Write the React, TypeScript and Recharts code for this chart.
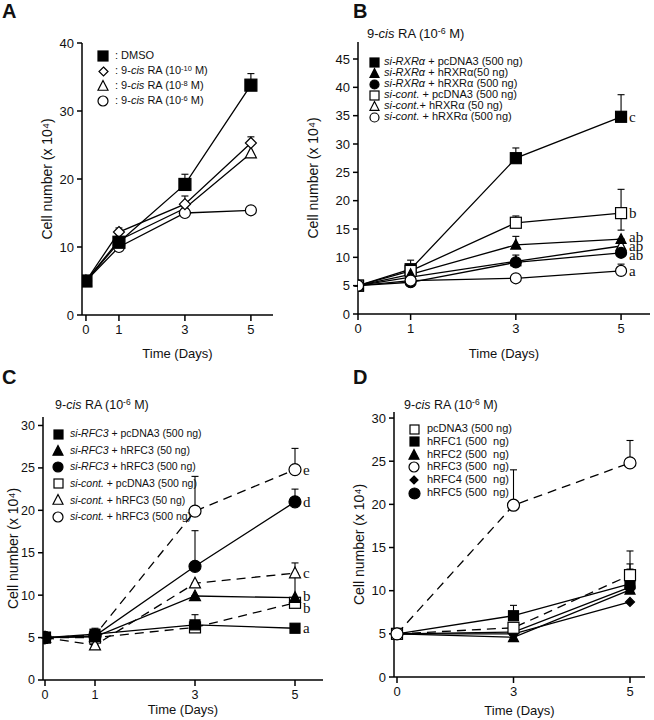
import React from "react";
import { LineChart, Line, XAxis, YAxis, ErrorBar, LabelList } from "recharts";

const DAYS = [0, 1, 3, 5];
const DAYS_D = ["0", "3", "5"];

// A: 9-cis RA dose series
const aDmso = [5, 10.7, 19.2, 33.8];
const aDmsoErr = [0, 1.3, 1.5, 1.7];
const aRa10 = [5, 12.2, 16.3, 25.3];
const aRa10Err = [0, 0.6, 1.2, 0.9];
const aRa8 = [5, 11.0, 15.7, 23.8];
const aRa6 = [5, 10.0, 15.0, 15.4];

// B: si-RXRa rescue
const bSiPc = [5, 7.9, 27.5, 34.8];
const bSiPcErr = [0, 1.6, 1.8, 3.9];
const bSi50 = [5, 7.0, 12.2, 13.2];
const bSi50Err = [0, 0, 1.5, 0];
const bSi500 = [5, 5.6, 9.1, 10.8];
const bSi500Err = [0, 0, 1.3, 0];
const bCtPc = [5, 7.6, 16.1, 17.8];
const bCtPcErr = [0, 0, 1.2, 4.2];
const bCtPcErrLow = [0, 0, 0, 3.0];
const bCt50 = [5, 6.5, 9.3, 12.0];
const bCt500 = [5, 5.9, 6.3, 7.6];
const bCt500Err = [0, 0, 0, 1.2];
const bLetters = ["c", "ab", "ab", "b", "ab", "a"];

// C: si-RFC3 rescue
const cSiPc = [5, 5.4, 6.5, 6.1];
const cSiPcErr = [0, 0.7, 1.2, 0];
const cSi50 = [5, 5.1, 9.9, 9.7];
const cSi50Err = [0, 0, 0, 2.8];
const cSi500 = [5, 5.2, 13.4, 21.0];
const cSi500Err = [0, 0, 4.2, 1.5];
const cCtPc = [5, 5.0, 6.2, 9.1];
const cCt50 = [5, 4.1, 11.4, 12.6];
const cCt50Err = [0, 0, 0, 1.2];
const cCt500 = [5, 5.3, 19.9, 24.8];
const cCt500Err = [0, 0, 4.1, 2.5];
const cLetters = ["a", "b", "d", "b", "c", "e"];

// D: RFC subunits
const dPc = [5, 5.7, 11.8];
const dPcErr = [0, 0, 1.3];
const dR1 = [5, 7.1, 10.8];
const dR1Err = [0, 1.2, 3.8];
const dR2 = [5, 4.6, 10.1];
const dR3 = [5, 19.9, 24.8];
const dR3Err = [0, 4.1, 2.6];
const dR4 = [5, 5.0, 8.7];
const dR5 = [5, 5.2, 10.4];
const dR5Err = [0, 0, 2.1];

type Shape = "square" | "circle" | "triangle" | "diamond";

interface Series {
  key: string;
  values: number[];
  up?: number[];
  down?: number[];
  shape: Shape;
  filled: boolean;
  size: number;
  dashed?: boolean;
  letter?: string;
  letterDy?: number;
}

function Marker({ shape, filled, size, cx, cy }: { shape: Shape; filled: boolean; size: number; cx: number; cy: number }) {
  const fill = filled ? "#000" : "#fff";
  const h = size / 2;
  const common = { fill, stroke: "#000", strokeWidth: 1.2 };
  if (shape === "square") return <rect x={cx - h} y={cy - h} width={size} height={size} {...common} />;
  if (shape === "circle") return <circle cx={cx} cy={cy} r={h} {...common} />;
  if (shape === "triangle")
    return <polygon points={`${cx},${cy - h * 1.1} ${cx - h},${cy + h * 0.85} ${cx + h},${cy + h * 0.85}`} {...common} />;
  return <polygon points={`${cx},${cy - h} ${cx + h},${cy} ${cx},${cy + h} ${cx - h},${cy}`} {...common} />;
}

function Sym({ shape, filled, size }: { shape: Shape; filled: boolean; size: number }) {
  const s = size + 4;
  return (
    <svg width={s} height={s} style={{ display: "block" }}>
      <Marker shape={shape} filled={filled} size={size} cx={s / 2} cy={s / 2} />
    </svg>
  );
}

function buildRows(xs: (number | string)[], series: Series[]) {
  return xs.map((day, i) => {
    const row: any = { day };
    series.forEach((s) => {
      row[s.key] = s.values[i];
      row[s.key + "_e"] = [s.down ? s.down[i] : 0, s.up ? s.up[i] : 0];
      row[s.key + "_l"] = i === xs.length - 1 && s.letter ? s.letter : null;
    });
    return row;
  });
}

interface PanelCfg {
  box: [number, number, number, number];
  yW: number;
  xH: number;
  yDomain: [number, number];
  yTicks: number[];
  xs: (number | string)[];
  xDomain?: [number, number];
  xPadding?: { left: number; right: number };
  series: Series[];
  tickFont: number;
  labelFont: number;
}

function Panel({ cfg }: { cfg: PanelCfg }) {
  const { box, yW } = cfg;
  const mt = 14;
  const mr = 4;
  const extra = 8;
  const xH = cfg.xH + extra;
  const width = yW + box[2] - box[0] + mr;
  const height = mt + box[3] - box[1] + xH;
  const rows = buildRows(cfg.xs, cfg.series);
  const axisLine = { stroke: "#000", strokeWidth: 1.5 };
  const tick = { fill: "#111", fontSize: cfg.tickFont, fontFamily: "Liberation Sans, Arial, sans-serif" };
  const numeric = !!cfg.xDomain;
  const timeLabel = { value: "Time (Days)", position: "insideBottom" as const, offset: extra, fontSize: 13, fill: "#111" };
  return (
    <div style={{ position: "absolute", left: box[0] - yW, top: box[1] - mt }}>
      <LineChart width={width} height={height} data={rows} margin={{ top: mt, right: mr, left: 0, bottom: 0 }}>
        {numeric ? (
          <XAxis
            dataKey="day"
            type="number"
            domain={cfg.xDomain}
            ticks={cfg.xs as number[]}
            allowDataOverflow
            interval={0}
            height={xH}
            axisLine={axisLine}
            tickLine={{ stroke: "#000", strokeWidth: 1.5 }}
            tickSize={6}
            tickMargin={4}
            tick={tick}
            label={timeLabel}
          />
        ) : (
          <XAxis
            dataKey="day"
            type="category"
            scale="point"
            padding={cfg.xPadding}
            interval={0}
            height={xH}
            axisLine={axisLine}
            tickLine={{ stroke: "#000", strokeWidth: 1.5 }}
            tickSize={6}
            tickMargin={4}
            tick={tick}
            label={timeLabel}
          />
        )}
        <XAxis xAxisId="top" orientation="top" type="number" domain={[0, 1]} height={0} tick={false} tickLine={false} axisLine={axisLine} />
        <YAxis
          type="number"
          domain={cfg.yDomain}
          ticks={cfg.yTicks}
          allowDataOverflow
          interval={0}
          width={yW}
          axisLine={axisLine}
          tickLine={{ stroke: "#000", strokeWidth: 1.5 }}
          tickSize={5}
          tickMargin={3}
          tick={tick}
          label={{ value: "Cell number (x 10\u2074)", angle: -90, position: "center", fontSize: cfg.labelFont, fill: "#111" }}
        />
        <YAxis yAxisId="right" orientation="right" type="number" domain={[0, 1]} width={0} tick={false} tickLine={false} axisLine={axisLine} />
        {cfg.series.map((s) => (
          <Line
            key={s.key}
            dataKey={s.key}
            stroke="#000"
            strokeWidth={1.3}
            strokeDasharray={s.dashed ? "9 6" : undefined}
            isAnimationActive={false}
            activeDot={false}
            dot={(p: any) => (
              <Marker key={`${s.key}-${p.index}`} shape={s.shape} filled={s.filled} size={s.size} cx={p.cx} cy={p.cy} />
            )}
          >
            {(s.up || s.down) && <ErrorBar dataKey={s.key + "_e"} direction="y" width={3.5} stroke="#000" strokeWidth={1.1} />}
            {s.letter && (
              <LabelList
                dataKey={s.key + "_l"}
                content={(p: any) =>
                  p.value ? (
                    <text
                      x={p.x + 8}
                      y={p.y + 5 + (s.letterDy || 0)}
                      fontFamily="Liberation Serif, Times New Roman, serif"
                      fontSize={15}
                      fill="#111"
                    >
                      {p.value}
                    </text>
                  ) : null
                }
              />
            )}
          </Line>
        ))}
      </LineChart>
    </div>
  );
}

const seriesA: Series[] = [
  { key: "ra8", values: aRa8, shape: "triangle", filled: false, size: 11 },
  { key: "ra6", values: aRa6, shape: "circle", filled: false, size: 11 },
  { key: "ra10", values: aRa10, up: aRa10Err, shape: "diamond", filled: false, size: 11 },
  { key: "dmso", values: aDmso, up: aDmsoErr, shape: "square", filled: true, size: 12 },
];

const seriesB: Series[] = [
  { key: "siPc", values: bSiPc, up: bSiPcErr, shape: "square", filled: true, size: 11, letter: bLetters[0] },
  { key: "ctPc", values: bCtPc, up: bCtPcErr, down: bCtPcErrLow, shape: "square", filled: false, size: 11, letter: bLetters[3] },
  { key: "ct50", values: bCt50, shape: "triangle", filled: false, size: 10, letter: bLetters[4] },
  { key: "si50", values: bSi50, up: bSi50Err, shape: "triangle", filled: true, size: 10, letter: bLetters[1], letterDy: -2 },
  { key: "si500", values: bSi500, up: bSi500Err, shape: "circle", filled: true, size: 11, letter: bLetters[2], letterDy: 2 },
  { key: "ct500", values: bCt500, up: bCt500Err, shape: "circle", filled: false, size: 11, letter: bLetters[5] },
];

const seriesC: Series[] = [
  { key: "ctPc", values: cCtPc, shape: "square", filled: false, size: 11, dashed: true, letter: cLetters[3], letterDy: 5 },
  { key: "ct50", values: cCt50, up: cCt50Err, shape: "triangle", filled: false, size: 11, dashed: true, letter: cLetters[4] },
  { key: "ct500", values: cCt500, up: cCt500Err, shape: "circle", filled: false, size: 12, dashed: true, letter: cLetters[5] },
  { key: "siPc", values: cSiPc, up: cSiPcErr, shape: "square", filled: true, size: 10, letter: cLetters[0] },
  { key: "si50", values: cSi50, up: cSi50Err, shape: "triangle", filled: true, size: 11, letter: cLetters[1], letterDy: -2 },
  { key: "si500", values: cSi500, up: cSi500Err, shape: "circle", filled: true, size: 12, letter: cLetters[2] },
];

const seriesD: Series[] = [
  { key: "r4", values: dR4, shape: "diamond", filled: true, size: 9 },
  { key: "r2", values: dR2, shape: "triangle", filled: true, size: 10 },
  { key: "r5", values: dR5, up: dR5Err, shape: "circle", filled: true, size: 10 },
  { key: "r1", values: dR1, up: dR1Err, shape: "square", filled: true, size: 10 },
  { key: "pc", values: dPc, up: dPcErr, shape: "square", filled: false, size: 11, dashed: true },
  { key: "r3", values: dR3, up: dR3Err, shape: "circle", filled: false, size: 12, dashed: true },
];

const panelA: PanelCfg = {
  box: [82, 43, 273, 315],
  yW: 70,
  xH: 43,
  yDomain: [0, 40],
  yTicks: [0, 10, 20, 30, 40],
  xs: DAYS,
  xDomain: [-0.12, 5.67],
  series: seriesA,
  tickFont: 13,
  labelFont: 14,
};

const panelB: PanelCfg = {
  box: [358, 42, 650, 314],
  yW: 90,
  xH: 44,
  yDomain: [0, 48],
  yTicks: [0, 5, 10, 15, 20, 25, 30, 35, 40, 45],
  xs: DAYS,
  xDomain: [0, 5.55],
  series: seriesB,
  tickFont: 13,
  labelFont: 14,
};

const panelC: PanelCfg = {
  box: [43, 417, 323, 680],
  yW: 60,
  xH: 34,
  yDomain: [0, 31],
  yTicks: [0, 5, 10, 15, 20, 25, 30],
  xs: DAYS,
  xDomain: [-0.04, 5.56],
  series: seriesC,
  tickFont: 12.5,
  labelFont: 14,
};

const panelD: PanelCfg = {
  box: [394, 412, 645, 677],
  yW: 70,
  xH: 38,
  yDomain: [0, 30.7],
  yTicks: [0, 5, 10, 15, 20, 25, 30],
  xs: DAYS_D,
  xPadding: { left: 3, right: 15 },
  series: seriesD,
  tickFont: 13,
  labelFont: 14,
};

const sup = (t: string) => (
  <span style={{ fontSize: "0.68em", position: "relative", top: "-0.45em" }}>{t}</span>
);
const raTitle = (
  <>
    9-<i>cis</i> RA (10{sup("-6")} M)
  </>
);
const raDose = (e: string) => (
  <>
    : 9-<i>cis</i> RA (10{sup(e)} M)
  </>
);

const legendA = [
  { shape: "square" as Shape, filled: true, size: 10, label: <>: DMSO</> },
  { shape: "diamond" as Shape, filled: false, size: 9, label: raDose("-10") },
  { shape: "triangle" as Shape, filled: false, size: 10, label: raDose("-8") },
  { shape: "circle" as Shape, filled: false, size: 10, label: raDose("-6") },
];

const legendB = [
  { shape: "square" as Shape, filled: true, size: 9, label: <><i>si-RXRα</i> + pcDNA3 (500 ng)</> },
  { shape: "triangle" as Shape, filled: true, size: 9, label: <><i>si-RXRα</i> + hRXRα(50 ng)</> },
  { shape: "circle" as Shape, filled: true, size: 9, label: <><i>si-RXRα</i> + hRXRα (500 ng)</> },
  { shape: "square" as Shape, filled: false, size: 9, label: <><i>si-cont.</i> + pcDNA3 (500 ng)</> },
  { shape: "triangle" as Shape, filled: false, size: 9, label: <><i>si-cont.</i>+ hRXRα (50 ng)</> },
  { shape: "circle" as Shape, filled: false, size: 9, label: <><i>si-cont.</i> + hRXRα (500 ng)</> },
];

const legendC = [
  { shape: "square" as Shape, filled: true, size: 9, label: <><i>si-RFC3</i> + pcDNA3 (500 ng)</> },
  { shape: "triangle" as Shape, filled: true, size: 10, label: <><i>si-RFC3</i> + hRFC3 (50 ng)</> },
  { shape: "circle" as Shape, filled: true, size: 10, label: <><i>si-RFC3</i> + hRFC3 (500 ng)</> },
  { shape: "square" as Shape, filled: false, size: 9, label: <><i>si-cont.</i> + pcDNA3 (500 ng)</> },
  { shape: "triangle" as Shape, filled: false, size: 10, label: <><i>si-cont.</i> + hRFC3 (50 ng)</> },
  { shape: "circle" as Shape, filled: false, size: 10, label: <><i>si-cont.</i> + hRFC3 (500 ng)</> },
];

const legendD = [
  { shape: "square" as Shape, filled: false, size: 9, label: <>pcDNA3 (500 ng)</> },
  { shape: "square" as Shape, filled: true, size: 9, label: <>hRFC1 (500&nbsp; ng)</> },
  { shape: "triangle" as Shape, filled: true, size: 10, label: <>hRFC2 (500&nbsp; ng)</> },
  { shape: "circle" as Shape, filled: false, size: 10, label: <>hRFC3 (500&nbsp; ng)</> },
  { shape: "diamond" as Shape, filled: true, size: 8, label: <>hRFC4 (500&nbsp; ng)</> },
  { shape: "circle" as Shape, filled: true, size: 11, label: <>hRFC5 (500&nbsp; ng)</> },
];

function LegendBlock({
  items,
  symX,
  textX,
  y0,
  step,
  fontSize,
}: {
  items: { shape: Shape; filled: boolean; size: number; label: React.ReactNode }[];
  symX: number;
  textX: number;
  y0: number;
  step: number;
  fontSize: number;
}) {
  return (
    <>
      {items.map((it, i) => {
        const cy = y0 + i * step;
        const s = it.size + 4;
        return (
          <React.Fragment key={i}>
            <div style={{ position: "absolute", left: symX - s / 2, top: cy - s / 2 }}>
              <Sym shape={it.shape} filled={it.filled} size={it.size} />
            </div>
            <div
              style={{
                position: "absolute",
                left: textX,
                top: cy - fontSize * 0.55,
                fontSize,
                lineHeight: 1,
                whiteSpace: "nowrap",
                color: "#111",
              }}
            >
              {it.label}
            </div>
          </React.Fragment>
        );
      })}
    </>
  );
}

function TextAt({ x, y, size, bold, children }: { x: number; y: number; size: number; bold?: boolean; children: React.ReactNode }) {
  return (
    <div
      style={{
        position: "absolute",
        left: x,
        top: y - size * 0.5,
        fontSize: size,
        lineHeight: 1,
        fontWeight: bold ? 700 : 400,
        whiteSpace: "nowrap",
        color: "#111",
      }}
    >
      {children}
    </div>
  );
}

export default function App() {
  return (
    <div
      style={{
        position: "absolute",
        left: 0,
        top: 0,
        width: 654,
        height: 720,
        background: "#fff",
        overflow: "hidden",
        fontFamily: "Liberation Sans, Arial, sans-serif",
      }}
    >
      <Panel cfg={panelA} />
      <Panel cfg={panelB} />
      <Panel cfg={panelC} />
      <Panel cfg={panelD} />

      <TextAt x={2} y={11} size={20} bold>A</TextAt>
      <TextAt x={353} y={11} size={20} bold>B</TextAt>
      <TextAt x={2} y={377} size={20} bold>C</TextAt>
      <TextAt x={353} y={377} size={20} bold>D</TextAt>

      <TextAt x={367} y={33} size={13}>{raTitle}</TextAt>
      <TextAt x={55} y={405} size={12.5}>{raTitle}</TextAt>
      <TextAt x={404} y={405} size={12.5}>{raTitle}</TextAt>

      <LegendBlock items={legendA} symX={103} textX={115} y0={56} step={15} fontSize={11} />
      <LegendBlock items={legendB} symX={374} textX={384} y0={62} step={11.1} fontSize={11} />
      <LegendBlock items={legendC} symX={58} textX={70} y0={434} step={16.6} fontSize={10.5} />
      <LegendBlock items={legendD} symX={414} textX={427} y0={429} step={12.8} fontSize={11} />
    </div>
  );
}
